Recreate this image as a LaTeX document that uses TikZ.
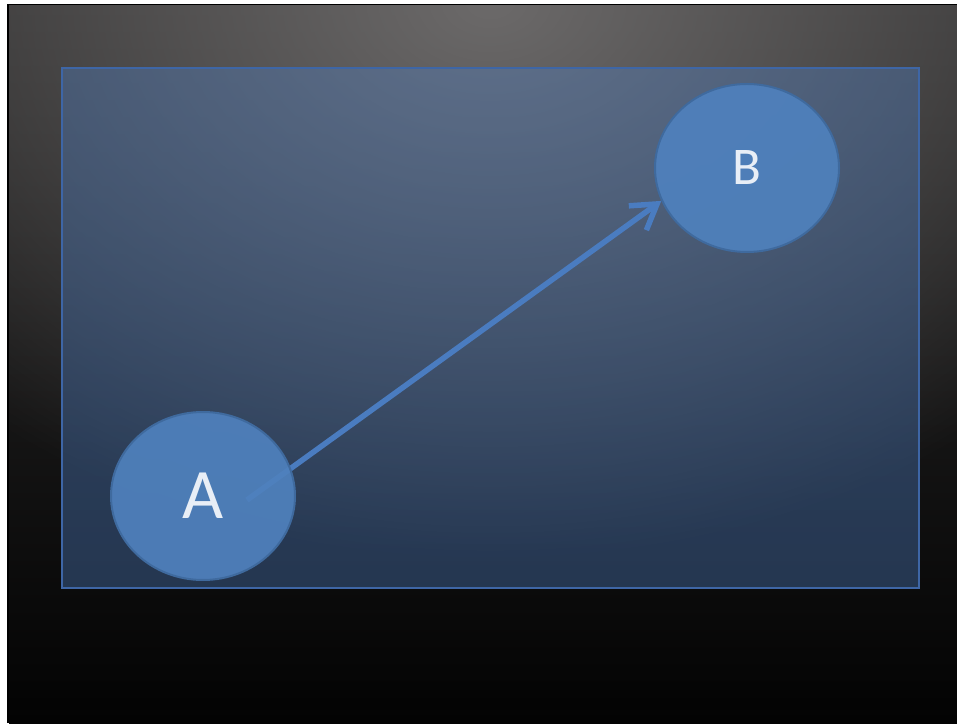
\documentclass[tikz,border=0pt]{standalone}
\usepackage{fontspec}
\setmainfont{Carlito}
\usetikzlibrary{shapes.geometric,arrows.meta,fadings,calc}
\definecolor{nodeblue}{HTML}{4F81BD}
\definecolor{nodeedge}{HTML}{3F6A9E}
\definecolor{panelblue}{HTML}{4F7FC4}
\definecolor{paneledge}{HTML}{3E66A6}
\definecolor{arrowblue}{HTML}{4A7CC0}
\definecolor{glowgrey}{HTML}{6C6A6A}
\definecolor{bgtop}{HTML}{2E2D2D}
\definecolor{bgmid}{HTML}{181818}
\definecolor{bgbottom}{HTML}{030303}
\definecolor{labelwhite}{HTML}{E8EEF6}
\tikzfading[name=glowfade, inner color=transparent!0, outer color=transparent!100]
\pgfdeclarelayer{back}
\pgfdeclarelayer{links}
\pgfsetlayers{back,links,main}
\begin{document}
\begin{tikzpicture}[x=1pt,y=1pt,
  bubble/.style={ellipse, draw=nodeedge, line width=2pt, fill=nodeblue,
    fill opacity=0.93, text opacity=1, text=labelwhite,
    minimum width=184pt, minimum height=168pt, inner sep=0pt},
  panel/.style={draw=paneledge, line width=2pt, fill=panelblue, fill opacity=0.38},
  link/.style={draw=arrowblue, line width=5.5pt,
    -{Straight Barb[length=24pt, width=30pt]}}
]
\useasboundingbox (0,0) rectangle (957,723);

% the two circles
\node[bubble, font=\fontsize{71}{71}\selectfont] (A) at (203,227) {A};
\node[bubble, font=\fontsize{53}{53}\selectfont] (B) at (747,555) {B};

\begin{pgfonlayer}{back}
  % paper margin and dark frame
  \fill[white] (0,0) rectangle (957,723);
  \fill[black] (7,0) rectangle (957,719);
  % dark backdrop, lighter towards the top
  \shade[top color=bgtop, middle color=bgmid, bottom color=bgbottom]
    (9,0) rectangle (957,717);
  \begin{scope}
    \clip (9,0) rectangle (957,717);
    \fill[glowgrey, path fading=glowfade] (490,723) ellipse [x radius=760, y radius=560];
  \end{scope}
  % translucent blue panel
  \draw[panel] (62,135) rectangle (919,655);
\end{pgfonlayer}

\begin{pgfonlayer}{links}
  \draw[link] ($(A.center)+(44,-4)$) -- (B.201);
\end{pgfonlayer}
\end{tikzpicture}
\end{document}
